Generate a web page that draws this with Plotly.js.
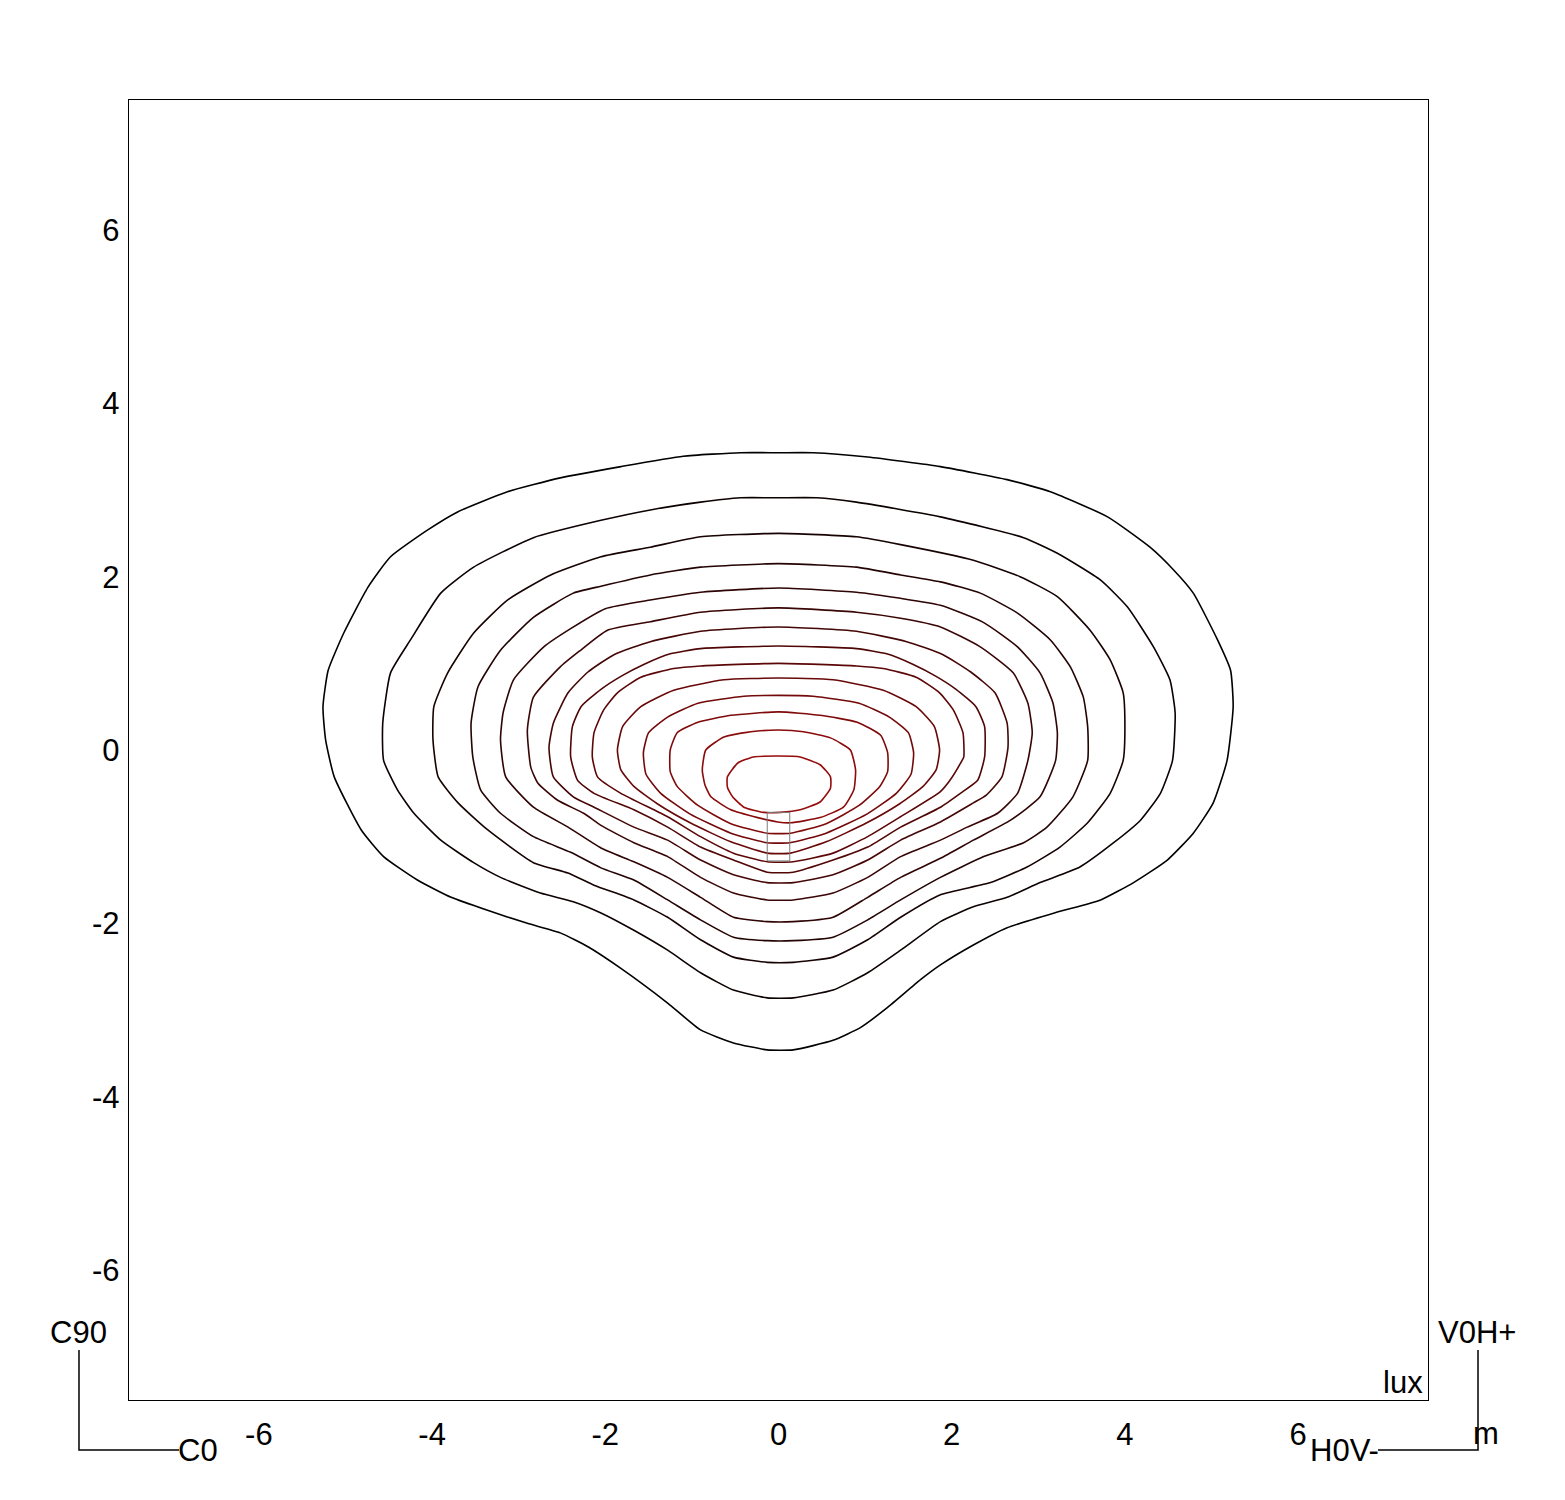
<!DOCTYPE html>
<html>
<head>
<meta charset="utf-8">
<script src="https://cdn.plot.ly/plotly-3.0.1.min.js"></script>
<style>html,body{margin:0;padding:0;background:#fff;}</style>
</head>
<body>
<div id="chart" style="width:1565px;height:1500px;"></div>
<script>
// Isolux contour lines (metres), outermost (c1) to innermost (c14)
const c1x = [0,-0.44,-1.10,-1.82,-2.52,-3.13,-3.70,-4.05,-4.48,-4.74,-5.02,-5.20,-5.26,-5.23,-5.13,-4.82,-4.56,-4.17,-3.78,-3.36,-2.90,-2.52,-2.20,-1.82,-1.28,-0.90,-0.52,-0.13,0.17,0.63,0.95,1.26,1.64,1.87,2.25,2.64,3.22,3.72,4.10,4.49,4.79,5.02,5.18,5.25,5.22,5.07,4.79,4.56,4.29,3.80,3.14,2.64,1.87,1.03,0.40];
const c1y = [3.43,3.43,3.39,3.27,3.14,2.98,2.75,2.54,2.23,1.88,1.35,0.92,0.50,0.12,-0.31,-0.92,-1.23,-1.50,-1.70,-1.85,-2.00,-2.11,-2.27,-2.52,-2.92,-3.23,-3.38,-3.46,-3.46,-3.35,-3.20,-2.97,-2.65,-2.48,-2.25,-2.05,-1.87,-1.73,-1.53,-1.27,-0.96,-0.61,-0.12,0.50,0.92,1.27,1.81,2.08,2.34,2.69,2.98,3.12,3.27,3.38,3.43];

const c2x = [0,-0.44,-0.90,-1.48,-2.05,-2.83,-3.52,-3.90,-4.25,-4.48,-4.57,-4.56,-4.40,-4.21,-3.90,-3.52,-3.21,-2.75,-2.37,-2.05,-1.67,-1.28,-0.90,-0.52,-0.13,0.17,0.63,1.03,1.41,1.87,2.25,2.64,3.02,3.48,3.87,4.18,4.41,4.55,4.58,4.52,4.33,4.03,3.72,3.22,2.83,1.87,0.90,0.44];
const c2y = [2.91,2.91,2.86,2.77,2.65,2.45,2.11,1.81,1.27,0.89,0.31,-0.12,-0.46,-0.73,-1.04,-1.30,-1.47,-1.65,-1.75,-1.88,-2.08,-2.31,-2.57,-2.77,-2.86,-2.86,-2.77,-2.57,-2.31,-1.98,-1.81,-1.70,-1.53,-1.35,-1.07,-0.81,-0.50,-0.12,0.43,0.81,1.19,1.65,1.96,2.27,2.45,2.69,2.86,2.91];

const c3x = [0,-0.90,-1.48,-2.05,-2.63,-3.13,-3.52,-3.82,-3.98,-3.99,-3.93,-3.70,-3.36,-2.83,-2.43,-2.13,-1.67,-1.28,-0.90,-0.52,-0.13,0.17,0.63,1.03,1.41,1.87,2.45,2.87,3.25,3.57,3.83,3.98,4.00,3.98,3.83,3.60,3.22,2.79,2.25,1.41,0.90];
const c3y = [2.50,2.46,2.34,2.23,2.02,1.73,1.35,0.89,0.50,0.12,-0.31,-0.61,-0.92,-1.30,-1.42,-1.56,-1.73,-1.93,-2.19,-2.39,-2.45,-2.45,-2.39,-2.19,-1.93,-1.67,-1.53,-1.35,-1.12,-0.84,-0.50,-0.12,0.27,0.66,1.04,1.38,1.77,2.00,2.19,2.37,2.46];

const c4x = [0,-0.90,-1.48,-2.05,-2.37,-2.83,-3.21,-3.47,-3.55,-3.53,-3.44,-3.21,-2.83,-2.40,-2.05,-1.67,-1.28,-0.90,-0.52,-0.13,0.17,0.63,1.03,1.41,1.87,2.37,2.83,3.10,3.40,3.57,3.57,3.52,3.37,3.14,2.76,2.33,1.87,1.41,0.90];
const c4y = [2.15,2.11,2.02,1.89,1.81,1.53,1.15,0.73,0.31,-0.08,-0.46,-0.73,-1.00,-1.18,-1.36,-1.50,-1.73,-1.96,-2.16,-2.20,-2.20,-2.16,-1.96,-1.73,-1.47,-1.23,-1.07,-0.89,-0.54,-0.12,0.27,0.61,0.96,1.27,1.58,1.81,1.94,2.02,2.11];

const c5x = [0,-0.90,-1.48,-2.00,-2.40,-2.71,-3.06,-3.18,-3.21,-3.15,-2.83,-2.43,-2.05,-1.67,-1.28,-0.90,-0.52,-0.13,0.17,0.63,1.03,1.41,1.87,2.25,2.68,3.02,3.20,3.22,3.17,3.02,2.76,2.37,1.87,1.41,0.90];
const c5y = [1.87,1.82,1.73,1.63,1.40,1.19,0.81,0.43,0.12,-0.31,-0.66,-0.89,-1.13,-1.29,-1.47,-1.70,-1.93,-1.98,-1.98,-1.93,-1.70,-1.47,-1.25,-1.04,-0.81,-0.54,-0.12,0.20,0.54,0.89,1.19,1.47,1.67,1.75,1.82];

const c6x = [0,-0.90,-1.48,-1.98,-2.30,-2.52,-2.83,-2.90,-2.86,-2.78,-2.55,-2.25,-2.05,-1.67,-1.28,-0.90,-0.52,-0.13,0.17,0.63,1.03,1.41,1.87,2.18,2.53,2.76,2.88,2.93,2.88,2.71,2.33,1.87,1.41,0.90];
const c6y = [1.64,1.59,1.48,1.38,1.14,0.96,0.61,0.23,-0.20,-0.38,-0.58,-0.73,-0.87,-1.07,-1.23,-1.47,-1.65,-1.73,-1.73,-1.65,-1.47,-1.23,-1.04,-0.89,-0.73,-0.50,-0.12,0.20,0.54,0.89,1.19,1.42,1.52,1.59];

const c7x = [0,-0.90,-1.48,-1.90,-2.20,-2.43,-2.60,-2.65,-2.60,-2.37,-2.13,-1.67,-1.28,-0.90,-0.52,-0.13,0.17,0.63,1.03,1.41,1.87,2.25,2.40,2.58,2.65,2.64,2.50,2.22,1.90,1.48,0.90];
const c7y = [1.42,1.37,1.25,1.10,0.90,0.66,0.31,0.03,-0.31,-0.54,-0.66,-0.89,-1.04,-1.27,-1.44,-1.53,-1.53,-1.44,-1.27,-1.04,-0.83,-0.61,-0.52,-0.31,0.03,0.31,0.66,0.90,1.10,1.25,1.37];

const c8x = [0,-0.90,-1.25,-1.55,-1.82,-2.05,-2.28,-2.38,-2.40,-2.32,-2.13,-1.67,-1.28,-0.90,-0.52,-0.13,0.17,0.63,1.03,1.41,1.87,2.10,2.30,2.38,2.38,2.28,2.05,1.82,1.55,1.25,0.90];
const c8y = [1.20,1.17,1.11,0.99,0.85,0.70,0.50,0.27,-0.08,-0.35,-0.50,-0.69,-0.89,-1.12,-1.27,-1.41,-1.41,-1.27,-1.12,-0.89,-0.66,-0.50,-0.35,-0.08,0.27,0.50,0.70,0.85,0.99,1.11,1.17];

const c9x = [0,-0.90,-1.21,-1.59,-1.86,-2.02,-2.13,-2.15,-2.09,-1.82,-1.28,-0.90,-0.52,-0.13,0.17,0.63,1.03,1.41,1.87,1.98,2.12,2.14,2.13,2.02,1.86,1.59,1.21,0.90];
const c9y = [1.00,0.97,0.94,0.84,0.66,0.46,0.20,-0.08,-0.31,-0.50,-0.77,-1.00,-1.19,-1.29,-1.29,-1.19,-1.00,-0.77,-0.48,-0.35,-0.12,-0.08,0.20,0.46,0.66,0.84,0.94,0.97];

const c10x = [0,-0.63,-1.21,-1.59,-1.80,-1.86,-1.82,-1.67,-1.40,-1.02,-0.55,-0.13,0.14,0.55,1.02,1.40,1.67,1.82,1.86,1.80,1.59,1.21,0.63];
const c10y = [0.83,0.81,0.69,0.50,0.27,0.00,-0.23,-0.42,-0.62,-0.84,-1.06,-1.19,-1.19,-1.06,-0.84,-0.62,-0.42,-0.23,0.00,0.27,0.50,0.69,0.81];

const c11x = [0,-0.40,-0.93,-1.28,-1.50,-1.56,-1.53,-1.36,-1.02,-0.55,-0.13,0.13,0.55,1.02,1.36,1.53,1.56,1.50,1.28,0.93,0.40];
const c11y = [0.63,0.62,0.54,0.38,0.20,-0.03,-0.28,-0.50,-0.74,-0.96,-1.07,-1.07,-0.96,-0.74,-0.50,-0.28,-0.03,0.20,0.38,0.54,0.62];

const c12x = [0,-0.55,-0.93,-1.17,-1.25,-1.25,-1.17,-0.93,-0.55,-0.13,0.14,0.55,0.93,1.17,1.26,1.26,1.18,0.91,0.48];
const c12y = [0.44,0.40,0.32,0.20,0.00,-0.25,-0.42,-0.64,-0.85,-0.96,-0.96,-0.85,-0.64,-0.42,-0.25,-0.03,0.17,0.32,0.40];

const c13x = [0,-0.32,-0.63,-0.84,-0.88,-0.85,-0.78,-0.55,-0.24,-0.01,0.14,0.48,0.75,0.87,0.89,0.83,0.60,0.29];
const c13y = [0.23,0.21,0.15,0.00,-0.23,-0.40,-0.54,-0.69,-0.78,-0.83,-0.84,-0.78,-0.66,-0.46,-0.23,0.00,0.14,0.21];

const c14x = [0,-0.29,-0.47,-0.59,-0.59,-0.53,-0.40,-0.17,0.02,0.25,0.48,0.60,0.60,0.48,0.25];
const c14y = [-0.07,-0.08,-0.15,-0.31,-0.43,-0.54,-0.66,-0.72,-0.72,-0.69,-0.60,-0.44,-0.31,-0.17,-0.08];

// Luminaire outline (metres)
const lumX = [-0.13, 0.13, 0.13, -0.13, -0.13];
const lumY = [-0.72, -0.72, -1.28, -1.28, -0.72];

// Axis ticks
const tickVals = [-6, -4, -2, 0, 2, 4, 6];
const tickText = ['-6', '-4', '-2', '0', '2', '4', '6'];

const contourX = [c1x,c2x,c3x,c4x,c5x,c6x,c7x,c8x,c9x,c10x,c11x,c12x,c13x,c14x];
const contourY = [c1y,c2y,c3y,c4y,c5y,c6y,c7y,c8y,c9y,c10y,c11y,c12y,c13y,c14y];

const n = contourX.length;
const traces = contourX.map(function (xs, i) {
  const ys = contourY[i];
  const t = i / (n - 1);
  const r = Math.round(150 * t);
  const g = Math.round(12 * t);
  return {
    type: 'scatter', mode: 'lines',
    x: xs.concat([xs[0]]), y: ys.concat([ys[0]]),
    line: {color: 'rgb(' + r + ',' + g + ',' + g + ')', width: 1.6, shape: 'spline', smoothing: 0.5},
    hoverinfo: 'skip', showlegend: false
  };
});
traces.push({
  type: 'scatter', mode: 'lines', x: lumX, y: lumY,
  line: {color: '#7a7a7a', width: 1}, hoverinfo: 'skip', showlegend: false
});

const FONT = 'Arial, "Liberation Sans", sans-serif';
const FS = 31;
const layout = {
  width: 1565, height: 1500, autosize: false,
  margin: {l: 129, r: 137, t: 100, b: 100, pad: 0},
  paper_bgcolor: '#ffffff', plot_bgcolor: '#ffffff',
  showlegend: false,
  font: {family: FONT, size: FS, color: '#000'},
  xaxis: {
    range: [-7.5, 7.5], tickvals: tickVals, ticktext: tickText,
    showgrid: false, zeroline: false, showline: true, mirror: true,
    linecolor: '#000', linewidth: 1.3, ticks: '', ticklabelstandoff: 6,
    tickfont: {family: FONT, size: FS, color: '#000'}, fixedrange: true
  },
  yaxis: {
    range: [-7.5, 7.5], tickvals: tickVals, ticktext: tickText,
    showgrid: false, zeroline: false, showline: true, mirror: true,
    linecolor: '#000', linewidth: 1.3, ticks: '', ticklabelstandoff: 2,
    tickfont: {family: FONT, size: FS, color: '#000'}, fixedrange: true
  },
  shapes: [
    {type: 'path', xref: 'paper', yref: 'paper', path: 'M -0.0385 0.0385 L -0.0385 -0.0385 L 0.0385 -0.0385', line: {color: '#000', width: 1.5}},
    {type: 'path', xref: 'paper', yref: 'paper', path: 'M 1.0385 0.0385 L 1.0385 -0.0385 L 0.9615 -0.0385', line: {color: '#000', width: 1.5}}
  ],
  annotations: [
    {xref: 'paper', yref: 'paper', x: -0.0385, y: 0.0523, text: 'C90', showarrow: false, xanchor: 'center', yanchor: 'middle', font: {family: FONT, size: FS, color: '#000'}},
    {xref: 'paper', yref: 'paper', x: 0.0385, y: -0.0385, text: 'C0', showarrow: false, xanchor: 'left', yanchor: 'middle', xshift: -3, font: {family: FONT, size: FS, color: '#000'}},
    {xref: 'paper', yref: 'paper', x: 1.0377, y: 0.0523, text: 'V0H+', showarrow: false, xanchor: 'center', yanchor: 'middle', font: {family: FONT, size: FS, color: '#000'}},
    {xref: 'paper', yref: 'paper', x: 0.9615, y: -0.0385, text: 'H0V-', showarrow: false, xanchor: 'right', yanchor: 'middle', xshift: 3, font: {family: FONT, size: FS, color: '#000'}},
    {xref: 'paper', yref: 'paper', x: 1.0446, y: -0.0254, text: 'm', showarrow: false, xanchor: 'center', yanchor: 'middle', font: {family: FONT, size: FS, color: '#000'}},
    {xref: 'paper', yref: 'paper', x: 0.9808, y: 0.0138, text: 'lux', showarrow: false, xanchor: 'center', yanchor: 'middle', font: {family: FONT, size: FS, color: '#000'}}
  ]
};

Plotly.newPlot('chart', traces, layout, {displayModeBar: false, staticPlot: true});
</script>
</body>
</html>
